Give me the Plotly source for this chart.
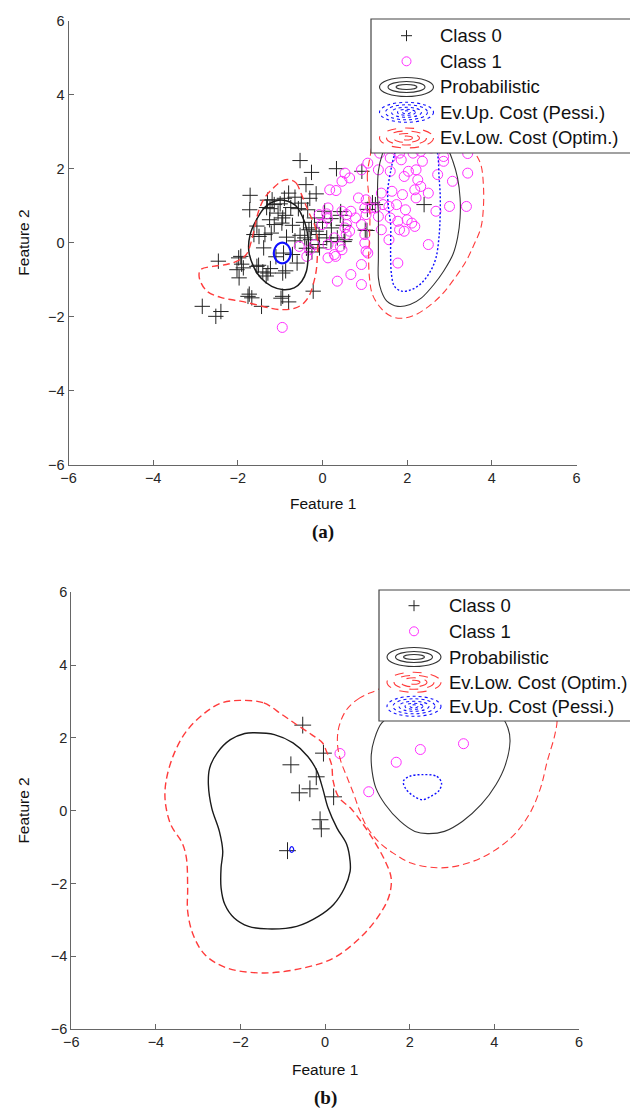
import plotly.graph_objects as go

W, H = 638, 1109

# ---------------- (a) data ----------------
a_c0 = [(-0.53,2.22),(-0.26,1.90),(0.33,2.00),(-0.39,1.57),(-0.15,1.32),(-1.71,1.28),(-1.72,0.89),(-1.19,1.16),(-1.14,1.03),(-1.24,0.92),
        (-0.80,1.34),(-0.65,1.23),(-0.50,1.07),(-0.57,0.92),(-0.94,0.67),(-0.87,0.74),(-0.35,0.89),(-0.19,0.67),(-1.62,0.22),(-1.50,0.17),
        (-1.36,0.22),(-1.21,0.26),(-1.14,0.49),(-0.96,0.53),(-0.71,0.47),(-0.53,0.20),(-0.42,0.13),(-0.28,0.08),(-1.39,-0.14),(-1.10,-0.38),
        (-0.92,-0.28),(-0.71,-0.32),(-2.46,-0.50),(-1.93,-0.37),(-1.91,-0.58),(-2.02,-0.73),(-1.97,-0.95),(-1.51,-0.61),(-1.41,-0.79),(-1.29,-0.82),
        (-0.94,-0.82),(-0.87,-0.76),(-0.22,-1.31),(-1.73,-1.39),(-1.67,-1.49),(-1.44,-1.72),(-0.94,-1.45),(-0.80,-1.60),(-2.84,-1.72),(-2.52,-1.99),
        (-2.40,-1.86),(0.21,0.40),(0.35,0.13),(0.42,0.74),(0.49,0.47),(0.53,0.08),(-0.07,-0.14),(0.10,0.13),(-0.08,0.22),(-0.26,0.40),
        (-0.15,0.31),(-1.55,-0.64),(-1.33,-0.90),(-1.23,-0.70),(-0.98,-1.50),(-1.98,-0.41),(-1.87,-0.68),(-1.76,-1.45),(2.40,1.03),(1.18,1.08),
        (0.93,1.93),(1.01,0.34),(1.06,0.90),(0.51,0.03),(0.43,0.84),(0.20,0.03),(1.05,0.33),(1.25,1.03),(-1.00,1.05),(-1.32,0.95),
        (-1.05,0.80),(-0.75,0.95),(-0.45,0.55),(-0.32,0.35),(-0.65,0.05),(-0.85,0.15),(-1.25,0.62),(-1.55,0.45),(-0.38,-0.15),(-0.25,-0.25),
        (-0.10,-0.05),(0.00,0.55),(0.05,0.85),(0.20,0.65),(-0.60,-0.55),(-1.30,1.15),(-0.90,1.20),(-0.30,1.20)]
a_c1 = [(0.53,1.88),(0.64,1.75),(0.46,1.66),(0.92,1.97),(1.32,1.97),(1.60,1.93),(1.93,1.79),(2.03,1.93),(2.21,1.97),(2.36,2.20),
        (2.25,1.70),(2.32,1.52),(2.18,1.43),(2.21,1.21),(2.50,1.34),(2.72,1.84),(3.07,1.66),(3.43,1.88),(2.86,2.33),(2.86,2.20),
        (2.14,2.42),(1.86,2.24),(1.60,2.29),(1.39,1.34),(1.64,1.39),(1.89,1.30),(1.43,1.03),(1.57,0.98),(1.75,1.03),(1.96,0.89),
        (1.78,0.58),(2.00,0.62),(2.11,0.53),(2.18,0.44),(1.93,0.31),(1.60,0.67),(1.39,0.35),(1.57,0.08),(1.32,0.71),(1.14,0.94),
        (1.03,0.76),(1.25,0.94),(0.85,1.21),(1.03,1.16),(1.00,0.94),(0.92,0.49),(1.00,0.22),(1.03,-0.23),(0.92,-0.59),(0.67,-0.86),
        (0.35,-1.04),(0.13,-0.05),(0.28,0.13),(-0.01,0.49),(-0.08,0.76),(0.13,0.94),(0.46,0.85),(0.57,0.76),(0.57,0.49),(0.64,0.31),
        (0.42,-0.10),(0.28,-0.32),(0.13,-0.41),(2.50,-0.05),(1.78,-0.55),(3.00,0.98),(3.40,0.98),(1.35,2.42),(1.07,2.15),(1.82,2.42),
        (2.32,2.47),(2.57,2.56),(1.82,0.35),(2.68,0.85),(1.07,-0.28),(1.00,-0.01),(0.92,-1.13),(0.46,-0.19),(0.17,1.43),(0.32,1.41),
        (0.10,0.78),(0.12,0.65),(0.53,0.40),(0.56,0.22),(0.67,0.85),(0.78,0.67),(-0.37,-0.37),(-0.30,-0.19),(-0.55,-0.10),(-0.19,-0.05),
        (0.31,-0.37),(3.43,2.41),(-0.95,-2.29)]

a_prob_l = [(-0.92,1.15),(-0.63,1.00),(-0.42,0.55),(-0.34,0.13),(-0.34,-0.41),(-0.38,-0.77),(-0.49,-1.04),(-0.67,-1.22),(-0.92,-1.27),
            (-1.20,-1.18),(-1.46,-0.95),(-1.63,-0.64),(-1.74,-0.23),(-1.71,0.22),(-1.56,0.62),(-1.35,0.97),(-1.13,1.12)]
a_prob_r = [(1.41,2.38),(1.32,1.93),(1.30,1.39),(1.32,0.76),(1.32,0.13),(1.32,-0.41),(1.32,-0.95),(1.39,-1.31),(1.52,-1.58),(1.78,-1.72),
            (2.07,-1.67),(2.34,-1.49),(2.63,-1.13),(2.86,-0.77),(3.08,-0.32),(3.19,0.13),(3.25,0.67),(3.25,1.21),(3.19,1.75),(3.08,2.20),
            (2.91,2.65),(2.57,3.10),(2.07,3.24),(1.66,3.01)]
a_low_l = [(-0.76,1.70),(-0.62,1.61),(-0.51,1.34),(-0.40,1.03),(-0.30,0.76),(-0.19,0.49),(-0.12,0.13),(-0.12,-0.32),(-0.15,-0.77),
           (-0.22,-1.13),(-0.30,-1.40),(-0.44,-1.63),(-0.65,-1.77),(-0.94,-1.81),(-1.23,-1.77),(-1.59,-1.67),(-1.94,-1.58),(-2.37,-1.49),
           (-2.73,-1.31),(-2.91,-0.95),(-2.88,-0.73),(-2.59,-0.64),(-2.27,-0.59),(-2.02,-0.50),(-1.80,-0.32),(-1.66,0.13),(-1.59,0.49),
           (-1.51,0.85),(-1.37,1.21),(-1.16,1.48),(-0.94,1.68)]
a_low_r = [(1.12,2.29),(1.06,1.84),(1.09,1.30),(1.12,0.76),(1.11,0.13),(1.09,-0.41),(1.11,-0.95),(1.18,-1.40),(1.38,-1.77),(1.62,-1.99),
           (1.88,-2.04),(2.19,-1.95),(2.51,-1.72),(2.82,-1.40),(3.13,-0.95),(3.39,-0.50),(3.58,-0.05),(3.74,0.40),(3.80,0.94),(3.80,1.57),
           (3.74,2.11),(3.58,2.47),(3.26,3.01),(2.69,3.46),(1.88,3.55),(1.31,3.19)]
a_up_l = [(-0.75,-0.28),(-0.78,-0.14),(-0.85,-0.04),(-0.95,0.00),(-1.05,-0.04),(-1.12,-0.14),(-1.15,-0.28),(-1.12,-0.42),
          (-1.05,-0.52),(-0.95,-0.56),(-0.85,-0.52),(-0.78,-0.42)]
a_up_r = [(1.70,2.38),(1.61,1.93),(1.54,1.39),(1.56,0.94),(1.61,0.49),(1.61,0.04),(1.61,-0.41),(1.63,-0.86),(1.70,-1.18),(1.87,-1.31),
          (2.10,-1.27),(2.34,-1.09),(2.55,-0.77),(2.68,-0.41),(2.75,0.13),(2.78,0.76),(2.78,1.30),(2.75,1.84),(2.73,2.29),(2.62,2.83),
          (2.24,3.10),(1.87,2.88)]

# ---------------- (b) data ----------------
b_c0 = [(-0.53,2.35),(-0.04,1.58),(-0.81,1.26),(-0.21,0.93),(-0.36,0.60),(-0.61,0.49),(0.20,0.38),(-0.12,-0.25),(-0.09,-0.50),(-0.89,-1.10)]
b_c1 = [(0.35,1.57),(1.68,1.33),(2.25,1.68),(3.27,1.84),(1.03,0.52)]
b_prob_l = [(-1.67,2.14),(-1.20,2.09),(-0.76,1.86),(-0.41,1.49),(-0.19,1.08),(-0.06,0.62),(0.07,0.07),(0.28,-0.48),(0.51,-0.93),
            (0.59,-1.39),(0.59,-1.67),(0.46,-2.12),(0.20,-2.58),(-0.15,-2.90),(-0.67,-3.18),(-1.36,-3.25),(-1.81,-3.18),(-2.15,-2.95),
            (-2.37,-2.58),(-2.46,-2.12),(-2.46,-1.57),(-2.42,-1.12),(-2.50,-0.57),(-2.68,0.07),(-2.76,0.72),(-2.73,1.17),(-2.55,1.59),
            (-2.24,1.95),(-1.90,2.12)]
b_prob_r = [(1.16,1.95),(1.09,1.54),(1.11,1.08),(1.20,0.62),(1.42,0.17),(1.77,-0.29),(2.12,-0.57),(2.42,-0.63),(2.82,-0.57),(3.25,-0.29),
            (3.69,0.17),(4.04,0.72),(4.26,1.26),(4.37,1.91),(4.32,2.27),(4.13,2.64),(3.52,2.87),(2.64,2.91),(1.77,2.73),(1.34,2.41)]
b_low_l = [(-2.02,3.03),(-1.45,2.96),(-1.02,2.64),(-0.67,2.36),(-0.32,2.09),(-0.06,1.86),(0.03,1.63),(0.15,1.27),(0.19,0.81),
           (0.33,0.35),(0.60,0.07),(0.90,-0.38),(1.16,-0.84),(1.42,-1.39),(1.56,-1.85),(1.52,-2.31),(1.34,-2.76),(0.90,-3.41),
           (0.20,-4.05),(-0.50,-4.32),(-1.45,-4.46),(-2.33,-4.32),(-2.84,-3.96),(-3.12,-3.41),(-3.25,-2.76),(-3.25,-2.12),(-3.28,-1.30),
           (-3.38,-0.89),(-3.65,-0.38),(-3.78,0.26),(-3.76,0.81),(-3.58,1.54),(-3.28,2.18),(-2.85,2.68),(-2.45,2.96)]
b_low_r = [(1.25,3.33),(0.82,3.10),(0.51,2.78),(0.33,2.32),(0.29,1.86),(0.36,1.40),(0.51,0.94),(0.68,0.44),(0.82,-0.02),(0.98,-0.43),
           (1.25,-0.84),(1.60,-1.16),(2.03,-1.44),(2.64,-1.57),(3.16,-1.51),(3.77,-1.25),(4.39,-0.75),(4.82,-0.11),(5.09,0.62),(5.25,1.36),
           (5.43,2.09),(5.48,2.55),(5.34,3.10),(4.91,3.55),(3.95,3.83),(2.64,3.87),(1.77,3.65)]
b_up_r = [(2.30,0.99),(2.64,0.94),(2.75,0.76),(2.69,0.55),(2.51,0.40),(2.30,0.30),(2.08,0.41),(1.90,0.61),(1.85,0.81),(1.99,0.94)]
b_up_l = [(-0.79,-0.99),(-0.75,-1.03),(-0.75,-1.11),(-0.79,-1.15),(-0.83,-1.11),(-0.83,-1.03)]

tick_vals = [-6, -4, -2, 0, 2, 4, 6]
legend_a = ["Class 0", "Class 1", "Probabilistic", "Ev.Up. Cost (Pessi.)", "Ev.Low. Cost (Optim.)"]
legend_b = ["Class 0", "Class 1", "Probabilistic", "Ev.Low. Cost (Optim.)", "Ev.Up. Cost (Pessi.)"]

BLACK = "#1a1a1a"
RED = "#ff3b3b"
BLUE = "#1010ff"
MAG = "#ff30ff"

fig = go.Figure()


def closed(pts):
    xs = [p[0] for p in pts] + [pts[0][0]]
    ys = [p[1] for p in pts] + [pts[0][1]]
    return xs, ys


def contour(pts, color, dash, width, xa, ya):
    xs, ys = closed(pts)
    fig.add_trace(go.Scatter(x=xs, y=ys, mode="lines", xaxis=xa, yaxis=ya,
                             line=dict(color=color, dash=dash, width=width, shape="spline", smoothing=1.0),
                             hoverinfo="skip", showlegend=False))


def points(pts, symbol, color, size, xa, ya):
    fig.add_trace(go.Scatter(x=[p[0] for p in pts], y=[p[1] for p in pts], mode="markers",
                             xaxis=xa, yaxis=ya, showlegend=False,
                             marker=dict(symbol=symbol, size=size, color=color,
                                         line=dict(color=color, width=1))))


DASH = "7px,4px"
DOT = "2px,2px"

# (a)
points(a_c0, "cross-thin", "#222222", 11, "x", "y")
points(a_c1, "circle-open", MAG, 10, "x", "y")
contour(a_prob_l, BLACK, "solid", 1.5, "x", "y")
contour(a_prob_r, "#333333", "solid", 1.1, "x", "y")
contour(a_low_l, RED, DASH, 1.4, "x", "y")
contour(a_low_r, RED, DASH, 1.1, "x", "y")
contour(a_up_l, BLUE, "solid", 2.2, "x", "y")
contour(a_up_r, BLUE, DOT, 1.4, "x", "y")

# (b)
points(b_c0, "cross-thin", "#222222", 12, "x2", "y2")
points(b_c1, "circle-open", MAG, 10, "x2", "y2")
contour(b_prob_l, BLACK, "solid", 1.4, "x2", "y2")
contour(b_prob_r, "#333333", "solid", 1.1, "x2", "y2")
contour(b_low_l, RED, DASH, 1.4, "x2", "y2")
contour(b_low_r, RED, DASH, 1.1, "x2", "y2")
contour(b_up_r, BLUE, DOT, 1.4, "x2", "y2")
contour(b_up_l, BLUE, "solid", 1.2, "x2", "y2")


def P(px, py):
    return px / W, 1 - py / H


shapes = []
annotations = []


def add_legend(box, rows, icon_x, text_x, labels):
    x0, y0 = P(box[0], box[1])
    x1, y1 = P(box[2], box[3])
    shapes.append(dict(type="rect", xref="paper", yref="paper", x0=x0, y0=y0, x1=x1, y1=y1,
                       line=dict(color="#444444", width=1.2), fillcolor="white", layer="above"))
    for lab, ry in zip(labels, rows):
        if lab == "Class 0":
            a, b = P(icon_x - 5.5, ry)
            c, d = P(icon_x + 5.5, ry)
            shapes.append(dict(type="line", xref="paper", yref="paper", x0=a, y0=b, x1=c, y1=d,
                               line=dict(color="#222222", width=1), layer="above"))
            a, b = P(icon_x, ry - 5.5)
            c, d = P(icon_x, ry + 5.5)
            shapes.append(dict(type="line", xref="paper", yref="paper", x0=a, y0=b, x1=c, y1=d,
                               line=dict(color="#222222", width=1), layer="above"))
        elif lab == "Class 1":
            a, b = P(icon_x - 4.5, ry - 4.5)
            c, d = P(icon_x + 4.5, ry + 4.5)
            shapes.append(dict(type="circle", xref="paper", yref="paper", x0=a, y0=b, x1=c, y1=d,
                               line=dict(color=MAG, width=1), layer="above"))
        else:
            if lab == "Probabilistic":
                col, dsh, sizes = "#333333", "solid", [(54, 19), (37, 11), (21, 5)]
            elif lab.startswith("Ev.Up"):
                col, dsh, sizes = BLUE, "dot", [(54, 20), (42, 15), (30, 10), (18, 6), (8, 3)]
            else:
                col, dsh, sizes = RED, "dash", [(54, 20), (40, 14), (26, 9), (12, 4)]
            for (w, h) in sizes:
                a, b = P(icon_x - w / 2, ry - h / 2)
                c, d = P(icon_x + w / 2, ry + h / 2)
                shapes.append(dict(type="circle", xref="paper", yref="paper", x0=a, y0=b, x1=c, y1=d,
                                   line=dict(color=col, width=1.1, dash=dsh), layer="above"))
        tx, ty = P(text_x, ry)
        annotations.append(dict(text=lab, xref="paper", yref="paper", x=tx, y=ty, xanchor="left",
                                yanchor="middle", showarrow=False,
                                font=dict(size=18.5, color="#111111", family="Liberation Sans, Arial")))


add_legend((363, 11, 625, 145), [27.7, 53.3, 79.0, 104.3, 130.0], 398.5, 430, legend_a)
add_legend((371, 582, 633, 713), [597.7, 623.3, 649.0, 674.3, 698.3], 406, 439, legend_b)


def text(s, px, py, size, family="Liberation Sans, Arial", angle=0):
    x, y = P(px, py)
    annotations.append(dict(text=s, xref="paper", yref="paper", x=x, y=y, xanchor="center",
                            yanchor="middle", showarrow=False, textangle=angle,
                            font=dict(size=size, color="#111111", family=family)))


text("Feature 1", 315, 495, 15.5)
text("Feature 2", 16, 234.7, 15.5, angle=-90)
text("<b>(a)</b>", 315, 524, 19, family="Liberation Serif, Times New Roman")
text("Feature 1", 317, 1061, 15.5)
text("Feature 2", 16, 802.6, 15.5, angle=-90)
text("<b>(b)</b>", 317, 1090, 19, family="Liberation Serif, Times New Roman")

axis_common = dict(range=[-6, 6], tickmode="array", tickvals=tick_vals, showline=True, linecolor="#666666",
                   linewidth=1, ticks="inside", ticklen=5, tickcolor="#666666", showgrid=False,
                   zeroline=False, mirror=False, automargin=False,
                   tickfont=dict(size=14.5, color="#262626", family="Liberation Sans, Arial"))

fig.update_layout(
    template="none",
    width=W, height=H, margin=dict(l=0, r=0, t=0, b=0, autoexpand=False),
    paper_bgcolor="white", plot_bgcolor="white", showlegend=False,
    xaxis=dict(domain=[60.5 / W, 568.5 / W], anchor="y", **axis_common),
    yaxis=dict(domain=[1 - 456.7 / H, 1 - 12.7 / H], anchor="x", **axis_common),
    xaxis2=dict(domain=[63.3 / W, 571 / W], anchor="y2", **axis_common),
    yaxis2=dict(domain=[1 - 1021 / H, 1 - 584.3 / H], anchor="x2", **axis_common),
    shapes=shapes, annotations=annotations,
)

fig.write_html("out.html")
